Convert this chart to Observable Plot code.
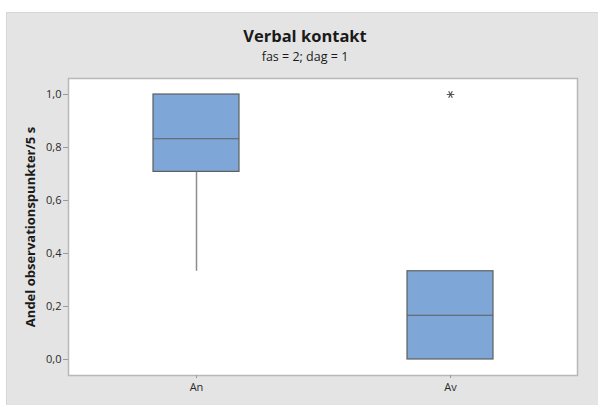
<!DOCTYPE html>
<html>
<head>
<meta charset="utf-8">
<script src="https://cdn.jsdelivr.net/npm/d3@7"></script>
<script src="https://cdn.jsdelivr.net/npm/@observablehq/plot@0.6"></script>
<style>
  html, body { margin: 0; padding: 0; background: #ffffff; width: 598px; height: 405px; overflow: hidden; }
  #bg { position: absolute; left: 6px; top: 12px; width: 592px; height: 393px; background: #e4e4e4; border-left: 1px solid #d6d6d6; border-top: 1px solid #d6d6d6; box-sizing: border-box; }
  #title { position: absolute; left: 0; width: 610px; top: 26px; text-align: center; font-family: "Open Sans", sans-serif; font-weight: bold; font-size: 16.5px; color: #1a1a1a; line-height: 20px; }
  #subtitle { position: absolute; left: 0; width: 610px; top: 49px; text-align: center; font-family: "Open Sans", sans-serif; font-size: 12.5px; color: #1a1a1a; line-height: 16px; }
  #chart { position: absolute; left: 6px; top: 71px; }
</style>
</head>
<body>
<div id="bg"></div>
<div id="title">Verbal kontakt</div>
<div id="subtitle">fas = 2; dag = 1</div>
<div id="chart"></div>
<script>
const categories = ["An", "Av"];
const whiskerLow = [0.333, 0];
const q1 = [0.708, 0];
const median = [0.833, 0.167];
const q3 = [1.0, 0.333];
const whiskerHigh = [1.0, 0.333];
const outlierCategory = ["Av"];
const outlierValue = [1.0];
const yTicks = [0, 0.2, 0.4, 0.6, 0.8, 1.0];
const yLabel = "Andel observationspunkter/5 s";

const boxes = categories.map((c, i) => ({
  cat: c, lo: whiskerLow[i], q1: q1[i], med: median[i], q3: q3[i], hi: whiskerHigh[i]
}));
const outliers = outlierCategory.map((c, i) => ({cat: c, v: outlierValue[i]}));

const chart = Plot.plot({
  width: 592,
  height: 334,
  marginLeft: 62,
  marginRight: 21,
  marginTop: 7,
  marginBottom: 30,
  style: { fontFamily: "'Open Sans', sans-serif", background: "transparent", color: "#2a2a2a" },
  x: { type: "band", domain: categories, paddingInner: 0.663, paddingOuter: 0.33 },
  y: { domain: [-0.0604, 1.0604] },
  marks: [
    Plot.frame({ fill: "#ffffff", stroke: "#b8b8b8", strokeWidth: 1.5 }),
    Plot.axisY({
      ticks: yTicks,
      tickFormat: d => d.toFixed(1).replace(".", ","),
      tickSize: 5, tickPadding: 2, fontSize: 11, stroke: "#9a9a9a",
      label: null
    }),
    Plot.axisX({ tickSize: 3, tickPadding: 5, fontSize: 11, stroke: "#9a9a9a", label: null }),
    Plot.text([yLabel], {
      frameAnchor: "left", dx: -38, rotate: -90, textAnchor: "middle",
      fontSize: 13, fontWeight: "bold", fill: "#1a1a1a"
    }),
    Plot.ruleX(boxes, { x: "cat", y1: "lo", y2: "q1", stroke: "#8c8c8c", strokeWidth: 1.5 }),
    Plot.ruleX(boxes, { x: "cat", y1: "q3", y2: "hi", stroke: "#8c8c8c", strokeWidth: 1.5 }),
    Plot.barY(boxes, { x: "cat", y1: "q1", y2: "q3", fill: "#7ea7d8", stroke: "#5e5e5e", strokeWidth: 1.2 }),
    Plot.tickY(boxes, { x: "cat", y: "med", stroke: "#5e5e5e", strokeWidth: 1.2 }),
    Plot.dot(outliers, { x: "cat", y: "v", symbol: "asterisk", r: 3.5, rotate: 90, stroke: "#555", strokeWidth: 1.2 })
  ]
});
document.getElementById("chart").appendChild(chart);
</script>
</body>
</html>
